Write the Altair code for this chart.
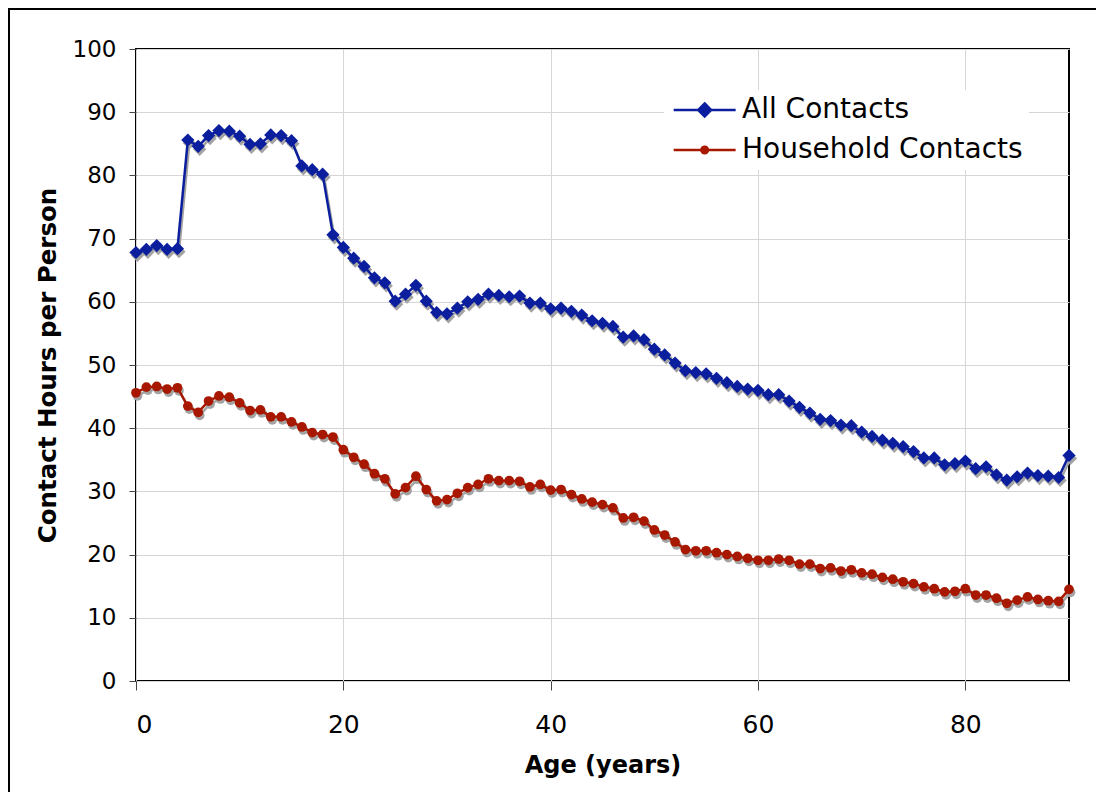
import altair as alt
import pandas as pd

# ---------------- data ----------------
ages = list(range(91))
all_contacts = [
    67.8, 68.3, 68.9, 68.3, 68.4, 85.6, 84.6, 86.3, 87.1, 87.0,
    86.2, 84.9, 85.0, 86.4, 86.3, 85.5, 81.5, 80.9, 80.2, 70.6,
    68.6, 66.9, 65.6, 63.8, 63.0, 60.1, 61.2, 62.6, 60.1, 58.3,
    58.1, 59.0, 60.0, 60.4, 61.2, 61.0, 60.8, 60.9, 59.8, 59.8,
    58.9, 59.0, 58.5, 57.9, 57.0, 56.6, 56.1, 54.4, 54.6, 54.0,
    52.5, 51.6, 50.3, 49.1, 48.8, 48.6, 47.9, 47.2, 46.6, 46.2,
    46.0, 45.3, 45.3, 44.3, 43.3, 42.4, 41.4, 41.2, 40.5, 40.4,
    39.4, 38.7, 38.1, 37.6, 37.1, 36.3, 35.3, 35.3, 34.2, 34.4,
    34.8, 33.6, 33.9, 32.6, 31.8, 32.3, 32.9, 32.5, 32.4, 32.2,
    35.7,
]
household_contacts = [
    45.6, 46.5, 46.6, 46.2, 46.4, 43.5, 42.5, 44.3, 45.1, 44.9,
    44.0, 42.8, 42.9, 41.8, 41.8, 41.0, 40.2, 39.3, 39.0, 38.6,
    36.6, 35.4, 34.3, 32.8, 32.0, 29.6, 30.6, 32.4, 30.3, 28.5,
    28.7, 29.7, 30.6, 31.1, 32.0, 31.7, 31.7, 31.6, 30.7, 31.1,
    30.2, 30.3, 29.5, 28.8, 28.3, 27.9, 27.4, 25.8, 25.9, 25.3,
    23.9, 23.1, 22.0, 20.8, 20.6, 20.6, 20.3, 20.0, 19.7, 19.4,
    19.1, 19.1, 19.3, 19.1, 18.5, 18.5, 17.8, 17.9, 17.4, 17.6,
    17.1, 16.9, 16.4, 16.1, 15.7, 15.4, 14.9, 14.6, 14.1, 14.2,
    14.6, 13.6, 13.6, 13.1, 12.3, 12.8, 13.3, 12.9, 12.7, 12.6,
    14.5,
]
series_names = ["All Contacts", "Household Contacts"]
series_colors = ["#0A1E9E", "#A81800"]
x_ticks = [0, 20, 40, 60, 80]
y_ticks = list(range(0, 101, 10))

df = pd.concat([
    pd.DataFrame({"age": ages, "value": all_contacts, "series": series_names[0]}),
    pd.DataFrame({"age": ages, "value": household_contacts, "series": series_names[1]}),
], ignore_index=True)

FONT = "DejaVu Sans"
SHADOW = "#a3a3a3"

X = alt.X(
    "age:Q",
    scale=alt.Scale(domain=[0, 90], nice=False, zero=False),
    axis=alt.Axis(
        values=x_ticks, title="Age (years)", grid=True, domain=False,
        tickSize=9, tickColor="#444444", labelPadding=22,
        labelFont=FONT, labelFontSize=25, labelColor="black",
        titleFont=FONT, titleFontSize=24, titleFontWeight="bold", titleColor="black",
        titleX=466.5, titleY=91, titleBaseline="alphabetic", titleAlign="center",
        gridColor="#d6d6d6", gridWidth=1,
    ),
)
Y = alt.Y(
    "value:Q",
    scale=alt.Scale(domain=[0, 100], nice=False),
    axis=alt.Axis(
        values=y_ticks, title="Contact Hours per Person", grid=True, domain=False,
        tickSize=7, tickColor="#444444", labelPadding=13,
        labelFont=FONT, labelFontSize=23, labelColor="black",
        titleFont=FONT, titleFontSize=24.5, titleFontWeight="bold", titleColor="black",
        titleX=-81, titleY=316, titleAngle=270, titleBaseline="alphabetic", titleAlign="center",
        gridColor="#d6d6d6", gridWidth=1,
    ),
)


def series_layers(name, color, shape, size):
    base = alt.Chart(df).transform_filter(alt.datum.series == name)
    shadow_line = base.mark_line(color=SHADOW, strokeWidth=2.5, xOffset=1.5, yOffset=3).encode(x=X, y=Y)
    shadow_pts = base.mark_point(shape=shape, size=size, filled=True, color=SHADOW, opacity=1,
                                 xOffset=1.5, yOffset=3).encode(x=X, y=Y)
    line = base.mark_line(color=color, strokeWidth=2.5).encode(x=X, y=Y)
    pts = base.mark_point(shape=shape, size=size, filled=True, color=color, opacity=1).encode(x=X, y=Y)
    return [shadow_line, shadow_pts, line, pts]


# legend symbols: a line with a marker in the middle (path units = sqrt(size)/2 px)
diamond_path = "M-1,0L5,0M2,-0.63L2.63,0L2,0.63L1.37,0Z"
circle_path = "M-1,0L5,0M2.32,0A0.32,0.32,0,1,1,1.68,0A0.32,0.32,0,1,1,2.32,0Z"

LEG = alt.Legend(
    title=None, orient="none", legendX=528, legendY=41, fillColor="white", padding=6,
    symbolSize=427, symbolStrokeWidth=2.5, labelFont=FONT, labelFontSize=28,
    labelColor="black", labelOffset=44, rowPadding=12, labelLimit=600,
)
legend_layer = alt.Chart(df).transform_filter("false").mark_point(
    filled=True, opacity=1, strokeWidth=2.5
).encode(
    fill=alt.Fill("series:N", scale=alt.Scale(domain=series_names, range=series_colors), legend=LEG),
    stroke=alt.Stroke("series:N", scale=alt.Scale(domain=series_names, range=series_colors), legend=LEG),
    shape=alt.Shape("series:N", scale=alt.Scale(domain=series_names, range=[diamond_path, circle_path]), legend=LEG),
)

frame_df = pd.DataFrame({"k": [0]})
frame_left = alt.Chart(frame_df).mark_rule(color="black", strokeWidth=2).encode(
    x=alt.value(-127), y=alt.value(-41), y2=alt.value(743)
)
frame_top = alt.Chart(frame_df).mark_rule(color="black", strokeWidth=2).encode(
    x=alt.value(-128), x2=alt.value(960), y=alt.value(-40)
)

layers = (
    series_layers(series_names[0], series_colors[0], "diamond", 175)
    + series_layers(series_names[1], series_colors[1], "circle", 95)
    + [legend_layer, frame_left, frame_top]
)

chart = alt.layer(*layers).properties(
    width=933, height=632,
    autosize=alt.AutoSizeParams(type="none"),
    padding={"left": 128, "top": 41, "right": 27, "bottom": 111},
    background="white",
).configure_view(stroke="black", strokeWidth=2)

chart.save("out.html", embed_options={"renderer": "svg", "actions": False})
